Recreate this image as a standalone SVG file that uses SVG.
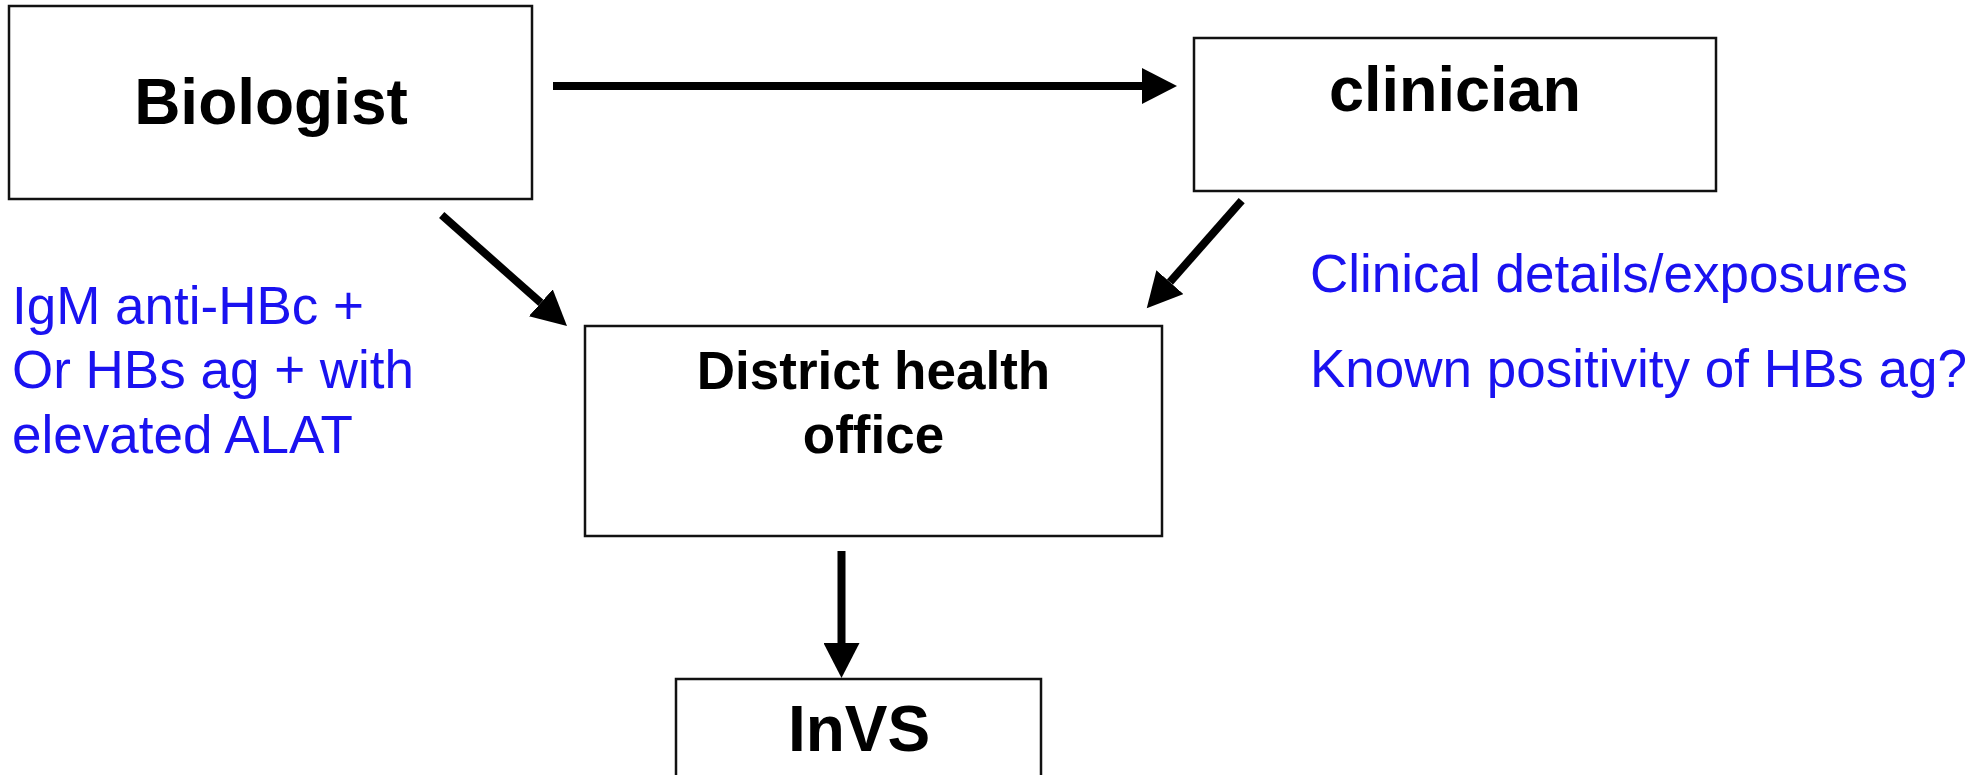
<svg xmlns="http://www.w3.org/2000/svg" width="1977" height="775" viewBox="0 0 1977 775">
<style>
.box{fill:#fff;stroke:#111;stroke-width:2.5}
.lbl{font-family:"Liberation Sans",Arial,sans-serif;font-weight:bold;fill:#000;text-anchor:middle}
.note{font-family:"Liberation Sans",Arial,sans-serif;font-size:53px;fill:#1a12f0}
.conn{stroke:#000;stroke-width:8;fill:none;marker-end:url(#head)}
</style>
<defs>
<marker id="head" markerUnits="userSpaceOnUse" markerWidth="36" markerHeight="36" refX="0" refY="18" orient="auto" viewBox="0 0 36 36">
<path d="M0,0 L35,18 L0,36 z" fill="#000"/>
</marker>
</defs>
<rect width="1977" height="775" fill="#fff"/>
<g id="biologist">
<rect class="box" x="9" y="6" width="523" height="193"/>
<text class="lbl" x="271" y="124" font-size="64">Biologist</text>
</g>
<g id="clinician">
<rect class="box" x="1194" y="38" width="522" height="153"/>
<text class="lbl" x="1455" y="111" font-size="63">clinician</text>
</g>
<g id="district">
<rect class="box" x="585" y="326" width="577" height="210"/>
<text class="lbl" x="873.5" y="389" font-size="53">District health</text>
<text class="lbl" x="873.5" y="453" font-size="53">office</text>
</g>
<g id="invs">
<rect class="box" x="676" y="679" width="365" height="120"/>
<text class="lbl" x="859" y="751" font-size="64">InVS</text>
</g>
<g id="note-left">
<text class="note" x="12" y="324">IgM anti-HBc +</text>
<text class="note" x="12" y="388">Or HBs ag + with</text>
<text class="note" x="12" y="453">elevated ALAT</text>
</g>
<g id="note-right">
<text class="note" x="1310" y="292">Clinical details/exposures</text>
<text class="note" x="1310" y="387">Known positivity of HBs ag?</text>
</g>
<g id="connectors">
<line class="conn" x1="553" y1="86" x2="1142" y2="86"/>
<line class="conn" x1="441.7" y1="215" x2="540.8" y2="302.8"/>
<line class="conn" x1="1241.7" y1="200.7" x2="1169.9" y2="282.1"/>
<line class="conn" x1="841.5" y1="551" x2="841.5" y2="643"/>
</g>
</svg>
